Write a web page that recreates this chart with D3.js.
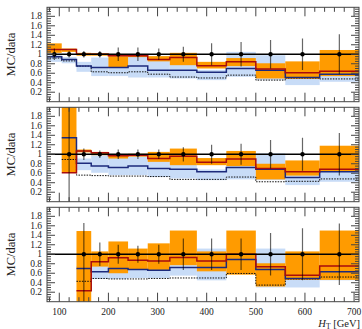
<!DOCTYPE html>
<html>
<head>
<meta charset="utf-8">
<script src="https://cdn.jsdelivr.net/npm/d3@7"></script>
<style>
  body { margin: 0; background: #fff; }
  svg text { font-family: "Liberation Serif", "DejaVu Serif", serif; fill: #222; }
</style>
</head>
<body>
<div id="chart"></div>
<script>
// bin edges in HT [GeV]
const edges = [75, 105, 135, 165, 200, 240, 280, 325, 380, 440, 500, 560, 630, 710];
const xTickLabels = [100, 200, 300, 400, 500, 600, 700];
const yTickLabels = [0.2, 0.4, 0.6, 0.8, 1, 1.2, 1.4, 1.6, 1.8];

// panel 1
const p1Red   = [1.10, 1.10, 1.00, 1.00, 0.97, 0.97, 0.89, 0.93, 0.76, 0.84, 0.69, 0.61, 0.64];
const p1OrLo  = [1.03, 1.05, 0.97, 0.97, 0.73, 0.94, 0.85, 0.77, 0.70, 0.75, 0.49, 0.48, 0.54];
const p1OrHi  = [1.23, 1.12, 1.03, 1.02, 0.96, 1.00, 0.96, 1.03, 0.84, 0.92, 0.81, 0.85, 1.09];
const p1Blue  = [0.945, 0.89, 0.75, 0.72, 0.72, 0.75, 0.665, 0.665, 0.62, 0.70, 0.665, 0.51, 0.58];
const p1BlLo  = [0.84, 0.81, 0.63, 0.54, 0.54, 0.51, 0.51, 0.49, 0.455, 0.525, 0.455, 0.35, 0.42];
const p1BlHi  = [0.98, 0.94, 0.84, 0.93, 0.93, 0.96, 0.96, 0.85, 0.67, 1.05, 0.98, 0.60, 0.63];
const p1Dot   = [0.92, 0.86, 0.75, 0.63, 0.61, 0.63, 0.58, 0.52, 0.50, 0.56, 0.455, 0.50, 0.48];
const p1ErrUp = [0.12, 0.07, 0.07, 0.07, 0.14, 0.14, 0.12, 0.16, 0.23, 0.26, 0.30, 0.33, 0.42];
const p1ErrDn = [0.12, 0.07, 0.07, 0.07, 0.14, 0.14, 0.12, 0.16, 0.23, 0.26, 0.30, 0.33, 0.42];

// panel 2
const p2Red   = [null, 0.61, 1.07, 1.03, 0.97, 0.98, 0.91, 0.96, 0.83, 0.90, 0.70, 0.63, 0.685];
const p2OrLo  = [null, 0.62, 1.04, 0.98, 0.91, 0.95, 0.84, 0.77, 0.77, 0.75, 0.47, 0.55, 0.63];
const p2OrHi  = [null, 2.10, 1.10, 1.05, 0.99, 1.01, 1.05, 1.12, 0.92, 1.07, 0.80, 0.87, 1.18];
const p2Blue  = [null, 1.35, 0.81, 0.75, 0.72, 0.755, 0.70, 0.685, 0.63, 0.72, 0.685, 0.51, 0.63];
const p2BlLo  = [null, 0.70, 0.665, 0.61, 0.56, 0.56, 0.52, 0.49, 0.455, 0.47, 0.455, 0.35, 0.42];
const p2BlHi  = [null, 1.50, 0.91, 0.98, 0.94, 0.96, 0.91, 0.89, 0.68, 1.05, 1.02, 0.56, 0.65];
const p2Dot   = [null, 0.89, 0.56, 0.55, 0.54, 0.54, 0.53, 0.47, 0.47, 0.52, 0.42, 0.43, 0.48];
const p2ErrUp = [null, 1.10, 0.12, 0.08, 0.10, 0.10, 0.10, 0.15, 0.20, 0.22, 0.30, 0.35, 0.45];
const p2ErrDn = [null, 1.10, 0.12, 0.08, 0.10, 0.10, 0.10, 0.15, 0.20, 0.22, 0.30, 0.35, 0.45];

// panel 3
const p3Red   = [null, null, 0.23, 0.84, 0.925, 0.875, 0.86, 0.93, 0.86, 1.00, 0.735, 0.56, 0.75];
const p3OrLo  = [null, null, 0.00, 0.74, 0.60, 0.67, 0.67, 0.77, 0.64, 0.57, 0.32, 0.46, 0.46];
const p3OrHi  = [null, null, 1.49, 1.06, 1.27, 1.12, 1.23, 1.50, 1.06, 1.50, 0.81, 1.06, 1.50];
const p3Blue  = [null, null, 0.70, 0.63, 0.70, 0.68, 0.665, 0.72, 0.72, 0.89, 0.68, 0.49, 0.63];
const p3BlLo  = [null, null, 0.45, 0.48, 0.48, 0.50, 0.50, 0.55, 0.45, 0.60, 0.30, 0.30, 0.45];
const p3BlHi  = [null, null, 0.75, 0.78, 0.80, 0.72, 0.75, 0.80, 1.12, 0.95, 1.12, 0.51, 0.65];
const p3Dot   = [null, null, 0.43, 0.49, 0.48, 0.48, 0.49, 0.50, 0.50, 0.595, 0.35, 0.48, 0.52];
const p3ErrUp = [null, null, 0.66, 0.25, 0.20, 0.18, 0.20, 0.33, 0.33, 0.33, 0.45, 0.55, 0.65];
const p3ErrDn = [null, null, 1.00, 0.25, 0.20, 0.18, 0.20, 0.33, 0.33, 0.33, 0.45, 0.55, 0.65];

const panels = [
  { red: p1Red, orLo: p1OrLo, orHi: p1OrHi, blue: p1Blue, blLo: p1BlLo, blHi: p1BlHi, dot: p1Dot, errUp: p1ErrUp, errDn: p1ErrDn },
  { red: p2Red, orLo: p2OrLo, orHi: p2OrHi, blue: p2Blue, blLo: p2BlLo, blHi: p2BlHi, dot: p2Dot, errUp: p2ErrUp, errDn: p2ErrDn },
  { red: p3Red, orLo: p3OrLo, orHi: p3OrHi, blue: p3Blue, blLo: p3BlLo, blHi: p3BlHi, dot: p3Dot, errUp: p3ErrUp, errDn: p3ErrDn }
];

const width = 362, height = 329;
const left = 47, right = 359;
const panelTops = [7.3, 107.3, 207.3];
const panelH = 94.4;

const svg = d3.select('#chart').append('svg')
  .attr('width', width)
  .attr('height', height);

const x = d3.scaleLinear().domain([75, 710]).range([left, right]);

const colOrange = '#ff9b00';
const colLightBlue = '#c8dcf7';
const colRed = '#a80c0c';
const colBlue = '#1c2a7c';

panels.forEach((p, pi) => {
  const top = panelTops[pi];
  const y = d3.scaleLinear().domain([0, 1.99]).range([top + panelH, top]);

  const clipId = 'clip' + pi;
  svg.append('clipPath').attr('id', clipId)
    .append('rect')
    .attr('x', left).attr('y', top)
    .attr('width', right - left).attr('height', panelH);

  const g = svg.append('g').attr('clip-path', `url(#${clipId})`);

  const bins = d3.range(edges.length - 1).filter(i => p.red[i] !== null);

  // light blue band
  g.selectAll('.blband').data(bins).enter().append('rect')
    .attr('x', i => x(edges[i]))
    .attr('width', i => x(edges[i + 1]) - x(edges[i]))
    .attr('y', i => y(p.blHi[i]))
    .attr('height', i => y(p.blLo[i]) - y(p.blHi[i]))
    .attr('fill', colLightBlue);

  // orange band
  g.selectAll('.orband').data(bins).enter().append('rect')
    .attr('x', i => x(edges[i]))
    .attr('width', i => x(edges[i + 1]) - x(edges[i]))
    .attr('y', i => y(p.orHi[i]))
    .attr('height', i => y(p.orLo[i]) - y(p.orHi[i]))
    .attr('fill', colOrange);

  // step lines
  const stepLine = arr => {
    const pts = bins.map(i => [edges[i], arr[i]]);
    const last = bins[bins.length - 1];
    pts.push([edges[last + 1], arr[last]]);
    return d3.line()
      .x(d => x(d[0]))
      .y(d => y(d[1]))
      .curve(d3.curveStepAfter)(pts);
  };

  g.append('path').attr('d', stepLine(p.dot))
    .attr('fill', 'none').attr('stroke', '#111')
    .attr('stroke-width', 1).attr('stroke-dasharray', '1.5 1.2');

  g.append('path').attr('d', stepLine(p.blue))
    .attr('fill', 'none').attr('stroke', colBlue).attr('stroke-width', 1.5);

  g.append('path').attr('d', stepLine(p.red))
    .attr('fill', 'none').attr('stroke', colRed).attr('stroke-width', 1.5);

  // data/data = 1
  g.append('line')
    .attr('x1', left).attr('x2', right)
    .attr('y1', y(1)).attr('y2', y(1))
    .attr('stroke', '#000').attr('stroke-width', 1.4);

  // data error bars and points
  const centre = i => x((edges[i] + edges[i + 1]) / 2);
  g.selectAll('.err').data(bins).enter().append('line')
    .attr('x1', centre).attr('x2', centre)
    .attr('y1', i => y(1 + p.errUp[i]))
    .attr('y2', i => y(1 - p.errDn[i]))
    .attr('stroke', 'rgba(0,0,0,0.6)').attr('stroke-width', 1.2);

  g.selectAll('.pt').data(bins).enter().append('circle')
    .attr('cx', centre).attr('cy', y(1))
    .attr('r', 2.2).attr('fill', '#000');

  // frame
  svg.append('rect')
    .attr('x', left).attr('y', top)
    .attr('width', right - left).attr('height', panelH)
    .attr('fill', 'none').attr('stroke', '#444').attr('stroke-width', 1);

  // inward ticks
  const ax = svg.append('g').attr('stroke', '#444').attr('stroke-width', 1);
  d3.range(80, 710, 20).forEach(v => {
    const major = v % 100 === 0;
    const len = major ? 9 : 4.5;
    const px = x(v);
    ax.append('line').attr('x1', px).attr('x2', px).attr('y1', top).attr('y2', top + len);
    ax.append('line').attr('x1', px).attr('x2', px).attr('y1', top + panelH).attr('y2', top + panelH - len);
  });
  d3.range(0.05, 1.99, 0.05).forEach(v => {
    const major = Math.abs(v / 0.2 - Math.round(v / 0.2)) < 1e-6;
    const len = major ? 8 : 4;
    const py = y(v);
    ax.append('line').attr('x1', left).attr('x2', left + len).attr('y1', py).attr('y2', py);
    ax.append('line').attr('x1', right).attr('x2', right - len).attr('y1', py).attr('y2', py);
  });

  // y tick labels
  svg.append('g').selectAll('text').data(yTickLabels).enter().append('text')
    .attr('x', 42)
    .attr('y', d => y(d) + 3)
    .attr('text-anchor', 'end')
    .style('font-size', '9.5px')
    .text(d => d);

  // y title
  svg.append('text')
    .attr('transform', `translate(15,${top + panelH / 2}) rotate(-90)`)
    .attr('text-anchor', 'middle')
    .style('font-size', '12.5px')
    .text('MC/data');
});

// x tick labels under bottom panel
svg.append('g').selectAll('text').data(xTickLabels).enter().append('text')
  .attr('x', d => x(d))
  .attr('y', 314.5)
  .attr('text-anchor', 'middle')
  .style('font-size', '9.5px')
  .text(d => d);

const xt = svg.append('text')
  .attr('x', 360).attr('y', 326.5)
  .attr('text-anchor', 'end')
  .style('font-size', '10.5px');
xt.append('tspan').style('font-style', 'italic').text('H');
xt.append('tspan').attr('dy', 2).style('font-size', '7.5px').text('T');
xt.append('tspan').attr('dy', -2).text(' [GeV]');
</script>
</body>
</html>
